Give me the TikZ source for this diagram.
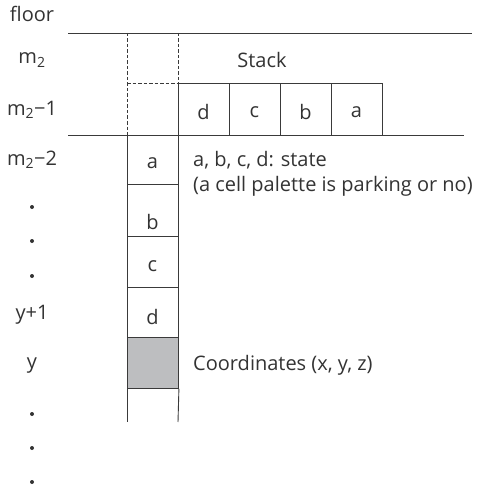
\documentclass[tikz,border=0pt]{standalone}
\usepackage{fontspec}
\setmainfont{Open Sans}
\definecolor{ink}{HTML}{333333}
\definecolor{edge}{HTML}{3A3A3A}
\definecolor{shade}{HTML}{BDBEC0}
\begin{document}
\begin{tikzpicture}[x=1pt,y=-1pt,
  txt/.style={inner sep=0pt,text=ink,font=\fontsize{20}{24}\selectfont},
  cell/.style={draw=edge,line width=0.9pt,minimum width=51pt,inner sep=0pt,anchor=north west},
  rule/.style={draw=edge,line width=0.9pt},
  dashrule/.style={draw=edge,line width=0.9pt,dash pattern=on 3.5pt off 2pt}]
\useasboundingbox (0,0) rectangle (481,492);
% horizontal rules
\coordinate (r1a) at (68,33); \coordinate (r1b) at (472,33);
\coordinate (r2a) at (68,135); \coordinate (r2b) at (464,135);
\draw[rule] (r1a) -- (r1b);
\draw[rule] (r2a) -- (r2b);
% dashed empty cell column
\coordinate (d1) at (127,33); \coordinate (d2) at (127,135);
\coordinate (d3) at (178,33); \coordinate (d4) at (178,83);
\coordinate (d5) at (127,83);
\draw[dashrule] (d1) -- (d2);
\draw[dashrule] (d3) -- (d4);
\draw[dashrule] (d5) -- (d4);
% stack row
\node[cell,minimum height=52pt] (s1) at (178,83) {};
\node[cell,minimum height=52pt] (s2) at (229,83) {};
\node[cell,minimum height=52pt] (s3) at (280,83) {};
\node[cell,minimum height=52pt] (s4) at (331,83) {};
% column
\node[cell,minimum height=49pt] (ca) at (127,135) {};
\node[cell,minimum height=52pt] (cb) at (127,184) {};
\node[cell,minimum height=51pt] (cc) at (127,236) {};
\node[cell,minimum height=50pt] (cd) at (127,287) {};
\node[cell,minimum height=51pt,fill=shade] (cg) at (127,337) {};
\coordinate (o1) at (127,422); \coordinate (o2) at (178,422);
\draw[rule] (cg.south west) -- (o1);
\draw[rule] (cg.south east) -- (o2);
% letters
\node[txt] (ts1) at (203.5,112) {d};
\node[txt] (ts2) at (254.5,112) {c};
\node[txt] (ts3) at (305.5,112) {b};
\node[txt] (ts4) at (356.5,112) {a};
\node[txt] (ta) at (152.5,163) {a};
\node[txt] (tb) at (152.5,222) {b};
\node[txt] (tc) at (152.5,266) {c};
\node[txt] (td) at (152.5,317) {d};
% row labels
\node[txt] (lf) at (32,14) {floor};
\node[txt] (l0) at (32,60) {m\textsubscript{2}};
\node[txt] (l1) at (32,110) {m\textsubscript{2}−1};
\node[txt] (l2) at (32,160) {m\textsubscript{2}−2};
\node[txt] (ly1) at (32,315) {y+1};
\node[txt] (ly) at (32,366) {y};
\foreach \yy/\nm in {207/p1,241/p2,276/p3,414/p4,448/p5,482/p6}
  \fill[ink] (32,\yy) circle (2pt) coordinate (\nm);
% notes
\node[txt] (stk) at (262,60) {Stack};
\node[txt,anchor=west] (n1) at (193,160) {a, b, c, d: state};
\node[txt,anchor=west] (n2) at (193,186) {(a cell palette is parking or no)};
\node[txt,anchor=west] (n3) at (193,365) {Coordinates (x, y, z)};
\end{tikzpicture}
\end{document}
